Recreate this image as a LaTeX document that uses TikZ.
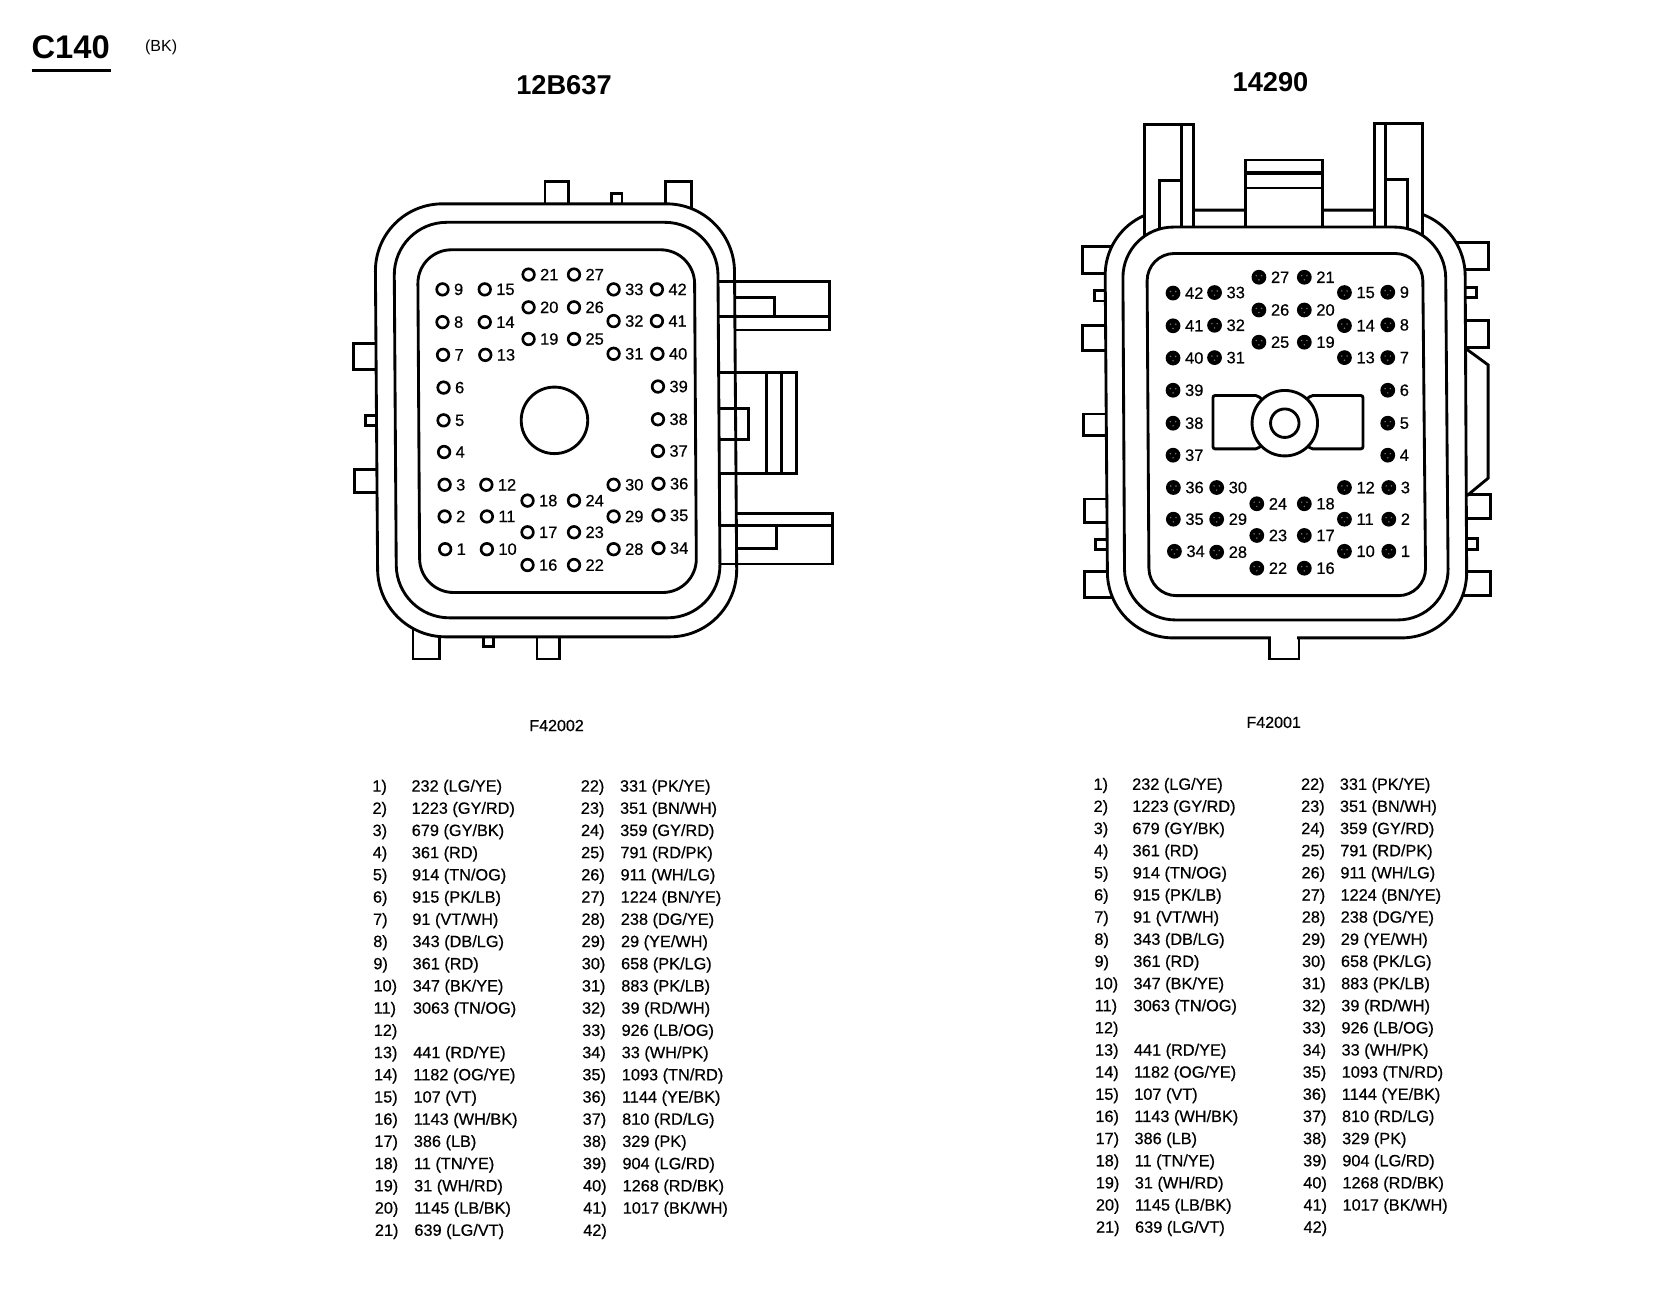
\documentclass[tikz,border=0pt]{standalone}
\usepackage{fontspec}
\setmainfont{Liberation Sans}
\newfontfamily\wirefont{Liberation Sans}[FakeBold=0.5]
\newcommand{\wiresize}{\wirefont\fontsize{7.72}{9.5}\selectfont}
\tikzset{
  ln/.style={line width=1.35pt,line join=miter,line cap=rect},
  body/.style={ln,fill=white},
  pinO/.style={circle,draw,line width=1.25pt,minimum size=5.5pt,inner sep=0pt,fill=white},
  pinF/.style={circle,fill=black,minimum size=7pt,inner sep=0pt},
  speck/.style={fill=black!55},
  pinlabel/.style={anchor=west,inner sep=0pt,font=\wirefont\fontsize{7.8}{9}\selectfont},
  wire/.style={anchor=west,inner sep=0pt,font=\wiresize}
}
\newcommand{\wirecol}[7]{%
 \foreach \i/\t in #7 {
  \pgfmathsetmacro{\yy}{#5+(\i-#6)*#4}
  \pgfmathsetmacro{\xa}{#1+(\i-#6)*0.12}
  \pgfmathsetmacro{\xb}{#2+(\i-#6)*0.14}
  \node[wire] (#3n\i) at (\xa,\yy) {\i)};
  \node[wire] (#3t\i) at (\xb,\yy) {\t};
 }}
\newcommand{\colone}{1/{232 (LG/YE)},2/{1223 (GY/RD)},3/{679 (GY/BK)},4/{361 (RD)},5/{914 (TN/OG)},6/{915 (PK/LB)},7/{91 (VT/WH)},8/{343 (DB/LG)},9/{361 (RD)},10/{347 (BK/YE)},11/{3063 (TN/OG)},12/{},13/{441 (RD/YE)},14/{1182 (OG/YE)},15/{107 (VT)},16/{1143 (WH/BK)},17/{386 (LB)},18/{11 (TN/YE)},19/{31 (WH/RD)},20/{1145 (LB/BK)},21/{639 (LG/VT)}}
\newcommand{\coltwo}{22/{331 (PK/YE)},23/{351 (BN/WH)},24/{359 (GY/RD)},25/{791 (RD/PK)},26/{911 (WH/LG)},27/{1224 (BN/YE)},28/{238 (DG/YE)},29/{29 (YE/WH)},30/{658 (PK/LG)},31/{883 (PK/LB)},32/{39 (RD/WH)},33/{926 (LB/OG)},34/{33 (WH/PK)},35/{1093 (TN/RD)},36/{1144 (YE/BK)},37/{810 (RD/LG)},38/{329 (PK)},39/{904 (LG/RD)},40/{1268 (RD/BK)},41/{1017 (BK/WH)},42/{}}
\begin{document}
\begin{tikzpicture}[x=0.5pt,y=-0.5pt]
\useasboundingbox (0,0) rectangle (1568,1242.2);
\fill[white] (0,0) rectangle (1568,1242.2);
% titles
\node[anchor=west,inner sep=0pt,font=\bfseries\fontsize{15.5}{18}\selectfont] (title) at (29.5,45) {C140};
\coordinate (ulA) at (30,67); \coordinate (ulB) at (105,67);
\draw[line width=1.2pt] (ulA) -- (ulB);
\node[anchor=west,inner sep=0pt,font=\fontsize{7.6}{9}\selectfont] (color) at (137,44.5) {(BK)};
\node[font=\bfseries\fontsize{12.9}{15}\selectfont,inner sep=0pt] (hA) at (534,81) {12B637};
\node[font=\bfseries\fontsize{12.9}{15}\selectfont,inner sep=0pt] (hB) at (1203,78) {14290};
\node[font=\wirefont\fontsize{7.6}{9}\selectfont,inner sep=0pt] (fA) at (527,687) {F42002};
\node[font=\wirefont\fontsize{7.6}{9}\selectfont,inner sep=0pt] (fB) at (1206,684) {F42001};

% ---------- left connector ----------
\draw[body] (334.5,325) rectangle (360,350);
\draw[body] (346,393.5) rectangle (360,403);
\draw[body] (335.5,444.5) rectangle (360,466);
\draw[body] (516,172) rectangle (538,200);
\draw[body] (579,183) rectangle (589,200);
\draw[body] (630,172) -- (654.5,172) -- (654.5,205) -- (630,205) -- cycle;
\draw[body] (391,624) rectangle (416,590);
\draw[body] (458,612) rectangle (467,590);
\draw[body] (508.5,624) rectangle (530,590);
\draw[body,rounded corners=32pt] (355,193) -- (695,193) -- (698,603) -- (358,603) -- cycle;
% right brackets
\draw[ln] (680,266.5) -- (785.5,266.5) -- (785.5,312.5) -- (697,312.5);
\draw[ln] (680,300) -- (785.5,300);
\draw[ln] (697,282) -- (733,282) -- (733,300);
\draw[ln] (680,353) -- (754,353) -- (754,448) -- (681,448);
\draw[ln] (726,353) -- (726,448);
\draw[ln] (740,353) -- (740,448);
\draw[ln] (681,387) -- (709,387) -- (709,416.5) -- (681,416.5);
\draw[ln] (698,486) -- (788,486) -- (788,534) -- (682,534);
\draw[ln] (682,497.5) -- (788,497.5);
\draw[ln] (735.5,497.5) -- (735.5,519) -- (698,519);
\draw[body,rounded corners=25pt] (373,210.5) -- (679.5,210.5) -- (682,585) -- (375.5,585) -- cycle;
\draw[body,rounded corners=16pt] (395.5,236.5) -- (657.5,236.5) -- (659.5,561) -- (397.5,561) -- cycle;
\node[circle,draw,line width=1.35pt,minimum size=31.5pt,inner sep=0pt] (holeA) at (525,398) {};
\foreach \n/\x/\y in {9/419/274,8/419/305,7/419.5/336,6/420/367,5/420/398,4/420.5/428,3/421/459,2/421/489,1/421.5/520,
 15/459/274,14/459/305,13/459.5/336,12/460.5/459,11/461/489,10/461/520,
 21/500.5/260,20/500.5/291,19/500.5/321,27/543.5/260,26/543.5/291,25/543.5/321,
 18/499.5/474,17/499.5/504,16/499.5/535,24/543.5/474,23/543.5/504,22/543.5/535,
 33/581/274,32/581/304,31/581/335,30/581/459,29/581/489,28/581/520,
 42/622/274,41/622/304,40/622.5/335,39/623/366,38/623/397,37/623/427,36/623.5/458,35/623.5/488,34/623.5/519}{
  \node[pinO] (ap\n) at (\x,\y) {};
  \node[pinlabel] (al\n) at (\x+10.5,\y) {\n};
}

% ---------- right connector ----------
\draw[body] (1025,233) rectangle (1060,259);
\draw[body] (1036,275) rectangle (1055,285);
\draw[body] (1025,308) rectangle (1055,332);
\draw[body] (1026,392) rectangle (1060,412.5);
\draw[body] (1027,472.5) rectangle (1060,494.5);
\draw[body] (1037.5,510.5) rectangle (1060,520);
\draw[body] (1027,541) rectangle (1065,566);
\draw[body] (1375,229.5) rectangle (1409,255.5);
\draw[body] (1375,272) rectangle (1398,281.5);
\draw[body] (1375,303.5) rectangle (1409,329);
\draw[body] (1375,468.5) rectangle (1411,491);
\draw[body] (1375,510) rectangle (1399,520);
\draw[body] (1375,541) rectangle (1411,564);
\draw[body] (1202,590) -- (1202,624) -- (1230,624) -- (1230,590);
\draw[body,rounded corners=31pt] (1046,199) -- (1387,199) -- (1389,604) -- (1049,604) -- cycle;
\draw[white,line width=2pt] (1203.5,604) -- (1228.5,604);
\draw[ln] (1388.5,330.5) -- (1409,345.5) -- (1409,452.8) -- (1390,468.5);
% posts
\draw[body] (1084,230) -- (1084,118) -- (1130,118) -- (1130,230) -- cycle;
\draw[ln] (1118.5,118) -- (1118.5,230);
\draw[ln] (1118.5,171) -- (1098,171) -- (1098,230);
\draw[body] (1301.5,230) -- (1301.5,117) -- (1347,117) -- (1347,230) -- cycle;
\draw[ln] (1312,117) -- (1312,230);
\draw[ln] (1314,170) -- (1333,170) -- (1333,230);
\draw[body] (1179.5,230) -- (1179.5,151.5) -- (1252.5,151.5) -- (1252.5,230) -- cycle;
\draw[line width=2pt] (1179.5,164) -- (1252.5,164);
\draw[ln] (1179.5,178) -- (1252.5,178);
\draw[body,rounded corners=24pt] (1063,215) -- (1368.5,215) -- (1371.5,587) -- (1065,587) -- cycle;
\draw[body,rounded corners=13pt] (1086,240) -- (1347,240) -- (1350,564) -- (1088,564) -- cycle;
% centre boss
\draw[body,rounded corners=1pt] (1191,374.5) -- (1148.5,374.5) -- (1148.5,425) -- (1191,425) -- (1216,400) -- cycle;
\draw[body,rounded corners=1pt] (1241,374.5) -- (1290.5,374.5) -- (1290.5,425) -- (1241,425) -- (1216,400) -- cycle;
\node[circle,draw,fill=white,line width=1.35pt,minimum size=31pt,inner sep=0pt] (bossB) at (1216.5,400.7) {};
\node[circle,draw,line width=1.35pt,minimum size=13.5pt,inner sep=0pt] (holeB) at (1216.5,400.7) {};
\foreach \n/\x/\y in {42/1110.7/277.5,41/1110.7/308.5,40/1110.7/339,39/1110.7/369.5,38/1110.7/400.7,37/1110.7/431,36/1111/461.6,35/1111/491.6,34/1112/522,
 33/1150/277,32/1150/308,31/1150/338.6,30/1152/461.6,29/1152/491.6,28/1152/522.8,
 27/1192/262.5,26/1192/293.5,25/1192/324,24/1190/477,23/1190/507,22/1190/538,
 21/1235/262.5,20/1235/293.5,19/1235/324,18/1235/477,17/1235/507,16/1235/538,
 15/1273/277,14/1273/308.3,13/1273/338.6,12/1273/461.6,11/1273/491.6,10/1273/522,
 9/1314/276.7,8/1314/307.6,7/1314/338.6,6/1314/369.5,5/1314/400.7,4/1314/431,3/1315/461.6,2/1315/491.6,1/1315/522}{
  \node[pinF] (bp\n) at (\x,\y) {};
  \fill[speck] (\x-2.5,\y-1.5) circle[radius=0.4pt] (\x+2.5,\y-1.5) circle[radius=0.4pt] (\x,\y+2.5) circle[radius=0.4pt];
  \node[pinlabel] (bl\n) at (\x+11,\y) {\n};
}

% ---------- wire lists ----------
\wirecol{352.2}{389.2}{la}{21.03}{745.5}{1}{\colone}
\wirecol{549.5}{586.6}{lb}{21.03}{745.5}{22}{\coltwo}
\wirecol{1035}{1071.6}{ra}{20.97}{743.8}{1}{\colone}
\wirecol{1231.5}{1268.2}{rb}{20.97}{743.8}{22}{\coltwo}
\end{tikzpicture}
\end{document}
